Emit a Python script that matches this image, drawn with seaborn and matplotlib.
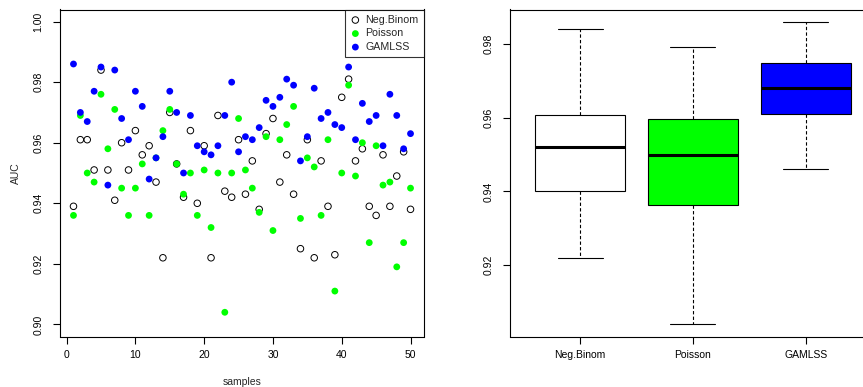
import numpy as np
import pandas as pd
import matplotlib
matplotlib.use("Agg")
import matplotlib.pyplot as plt
import seaborn as sns

# AUC per sample
samples = list(range(1, 51))
neg_binom = [0.939, 0.961, 0.961, 0.951, 0.984, 0.951, 0.941, 0.960, 0.951, 0.964,
             0.956, 0.959, 0.947, 0.922, 0.970, 0.953, 0.942, 0.964, 0.940, 0.959,
             0.922, 0.969, 0.944, 0.942, 0.961, 0.943, 0.954, 0.938, 0.963, 0.968,
             0.947, 0.956, 0.943, 0.925, 0.961, 0.922, 0.954, 0.939, 0.923, 0.975,
             0.981, 0.954, 0.958, 0.939, 0.936, 0.956, 0.939, 0.949, 0.957, 0.938]
poisson = [0.936, 0.969, 0.950, 0.947, 0.976, 0.958, 0.971, 0.945, 0.936, 0.945,
           0.953, 0.936, 0.955, 0.964, 0.971, 0.953, 0.943, 0.950, 0.936, 0.951,
           0.932, 0.950, 0.904, 0.950, 0.968, 0.951, 0.945, 0.937, 0.962, 0.931,
           0.961, 0.966, 0.972, 0.935, 0.955, 0.952, 0.936, 0.961, 0.911, 0.950,
           0.979, 0.949, 0.960, 0.927, 0.959, 0.946, 0.947, 0.919, 0.927, 0.945]
gamlss = [0.986, 0.970, 0.967, 0.977, 0.985, 0.946, 0.984, 0.968, 0.961, 0.977,
          0.972, 0.948, 0.955, 0.962, 0.977, 0.970, 0.950, 0.969, 0.959, 0.957,
          0.956, 0.959, 0.969, 0.980, 0.957, 0.962, 0.961, 0.965, 0.974, 0.972,
          0.975, 0.981, 0.979, 0.954, 0.962, 0.978, 0.968, 0.970, 0.966, 0.965,
          0.985, 0.961, 0.973, 0.967, 0.969, 0.959, 0.976, 0.969, 0.958, 0.963]
models = ["Neg.Binom", "Poisson", "GAMLSS"]
colors = ["white", "#00FF00", "#0000FF"]

sns.set_theme(style="ticks")
plt.rcParams["font.family"] = ["Liberation Sans", "DejaVu Sans"]
plt.rcParams["axes.edgecolor"] = "black"
plt.rcParams["axes.linewidth"] = 0.8
plt.rcParams["xtick.color"] = "black"
plt.rcParams["ytick.color"] = "black"
fs = 7.5

fig = plt.figure(figsize=(8.63, 3.87), dpi=100)
ax1 = fig.add_axes([60 / 863, 50.5 / 387, 364 / 863, 327 / 387])
ax2 = fig.add_axes([510.3 / 863, 50.5 / 387, 365.3 / 863, 327 / 387])

# left: scatter of AUC by sample
sns.scatterplot(x=samples, y=neg_binom, ax=ax1, marker="o", s=22,
                facecolors="none", edgecolors="black", linewidths=0.7,
                label="Neg.Binom")
sns.scatterplot(x=samples, y=poisson, ax=ax1, marker="o", s=24,
                color="#00FF00", edgecolor="none", linewidth=0, label="Poisson")
sns.scatterplot(x=samples, y=gamlss, ax=ax1, marker="o", s=24,
                color="#0000FF", edgecolor="none", linewidth=0, label="GAMLSS")
ax1.set_xlim(1 - 0.04 * 49, 50 + 0.04 * 49)
ax1.set_ylim(0.9 - 0.004, 1.0 + 0.004)
ax1.set_xticks([0, 10, 20, 30, 40, 50])
ax1.set_yticks([0.90, 0.92, 0.94, 0.96, 0.98, 1.00])
ax1.set_yticklabels(["0.90", "0.92", "0.94", "0.96", "0.98", "1.00"])
ax1.set_xlabel("samples", fontsize=fs, labelpad=12)
ax1.set_ylabel("AUC", fontsize=fs, labelpad=9)
leg = ax1.legend(loc="upper right", borderaxespad=0, fontsize=fs + 0.2,
                 frameon=True, fancybox=False, handletextpad=0.5,
                 handlelength=0.9, labelspacing=0.33, borderpad=0.5,
                 markerscale=1.0)
leg.get_frame().set_edgecolor("black")
leg.get_frame().set_linewidth(0.8)

# right: boxplots of the same values
df = pd.DataFrame({
    "model": np.repeat(models, len(samples)),
    "AUC": neg_binom + poisson + gamlss,
})
sns.boxplot(data=df, x="model", y="AUC", hue="model", palette=colors,
            order=models, width=0.8, linecolor="black", linewidth=0.8,
            saturation=1, legend=False, ax=ax2,
            whiskerprops={"linestyle": (0, (3, 2))},
            medianprops={"linewidth": 2.2},
            showfliers=False)
allv = neg_binom + poisson + gamlss
r = max(allv) - min(allv)
ax2.set_xlim(-0.62, 2.62)
ax2.set_ylim(min(allv) - 0.04 * r, max(allv) + 0.04 * r)
ax2.set_yticks([0.92, 0.94, 0.96, 0.98])
ax2.set_yticklabels(["0.92", "0.94", "0.96", "0.98"])
ax2.set_xlabel("")
ax2.set_ylabel("")

for ax in (ax1, ax2):
    for sp in ax.spines.values():
        sp.set_visible(True)
        sp.set_color("black")
        sp.set_linewidth(0.8)
    ax.tick_params(axis="both", direction="out", length=5, width=0.8,
                   labelsize=fs, colors="black")
    ax.tick_params(axis="x", pad=5)
    ax.tick_params(axis="y", pad=7, labelrotation=90)
    for lab in ax.get_yticklabels():
        lab.set_va("center")

fig.savefig("out.png", dpi=100)
